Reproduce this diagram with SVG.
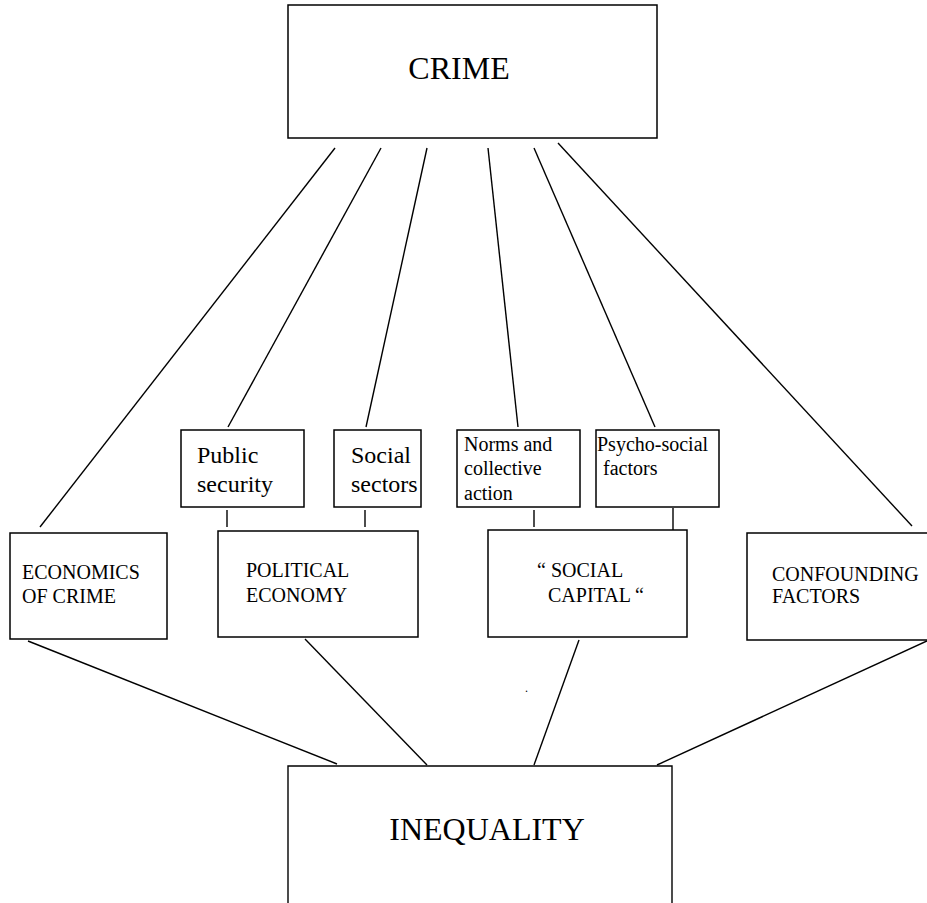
<svg xmlns="http://www.w3.org/2000/svg" width="927" height="903" viewBox="0 0 927 903">
<style>
.box{fill:#fff;stroke:#000;stroke-width:1.5}
.ln{stroke:#000;stroke-width:1.4;fill:none}
text{font-family:"Liberation Serif","Times New Roman",serif;fill:#000}
.big{font-size:32px}
.mid{font-size:24px}
.sm{font-size:20px}
</style>
<rect width="927" height="903" fill="#fff"/>
<g id="connectors">
<line class="ln" x1="335" y1="148" x2="40" y2="527"/>
<line class="ln" x1="381" y1="148" x2="228" y2="427"/>
<line class="ln" x1="427" y1="148" x2="366" y2="427"/>
<line class="ln" x1="488" y1="148" x2="518" y2="427"/>
<line class="ln" x1="534" y1="148" x2="655" y2="427"/>
<line class="ln" x1="558" y1="143" x2="912" y2="526"/>
<line class="ln" x1="227" y1="510" x2="227" y2="527"/>
<line class="ln" x1="365" y1="510" x2="365" y2="527"/>
<line class="ln" x1="534" y1="510" x2="534" y2="527"/>
<line class="ln" x1="673" y1="508" x2="673" y2="530"/>
<line class="ln" x1="28" y1="641" x2="337" y2="764"/>
<line class="ln" x1="305" y1="639" x2="427" y2="765"/>
<line class="ln" x1="579" y1="640" x2="534" y2="765"/>
<line class="ln" x1="927" y1="641" x2="657" y2="765"/>
</g>
<g id="crime">
<rect class="box" x="288" y="5" width="369" height="133"/>
<text class="big" x="459" y="79" text-anchor="middle">CRIME</text>
</g>
<g id="public-security">
<rect class="box" x="181" y="430" width="123" height="77"/>
<text class="mid" x="197" y="463">Public</text>
<text class="mid" x="197" y="492">security</text>
</g>
<g id="social-sectors">
<rect class="box" x="334" y="430" width="87" height="77"/>
<text class="mid" x="351" y="463">Social</text>
<text class="mid" x="351" y="492">sectors</text>
</g>
<g id="norms">
<rect class="box" x="457" y="430" width="123" height="77"/>
<text class="sm" x="464" y="451">Norms and</text>
<text class="sm" x="464" y="475">collective</text>
<text class="sm" x="464" y="500">action</text>
</g>
<g id="psycho-social">
<rect class="box" x="596" y="430" width="123" height="77"/>
<text class="sm" x="597" y="451">Psycho-social</text>
<text class="sm" x="603" y="475">factors</text>
</g>
<g id="economics-of-crime">
<rect class="box" x="10" y="533" width="157" height="106"/>
<text class="sm" x="22" y="579">ECONOMICS</text>
<text class="sm" x="22" y="603">OF CRIME</text>
</g>
<g id="political-economy">
<rect class="box" x="218" y="531" width="200" height="106"/>
<text class="sm" x="246" y="577">POLITICAL</text>
<text class="sm" x="246" y="602">ECONOMY</text>
</g>
<g id="social-capital">
<rect class="box" x="488" y="530" width="199" height="107"/>
<text class="sm" x="537" y="577">“ SOCIAL</text>
<text class="sm" x="548" y="602">CAPITAL “</text>
</g>
<g id="confounding-factors">
<rect class="box" x="747" y="533" width="190" height="107"/>
<text class="sm" x="772" y="581">CONFOUNDING</text>
<text class="sm" x="772" y="603">FACTORS</text>
</g>
<g id="inequality">
<path class="ln" d="M288 910 V766 H672 V910"/>
<text class="big" x="487" y="840" text-anchor="middle">INEQUALITY</text>
</g>
<text x="525" y="692" style="font-size:12px">.</text>
</svg>
